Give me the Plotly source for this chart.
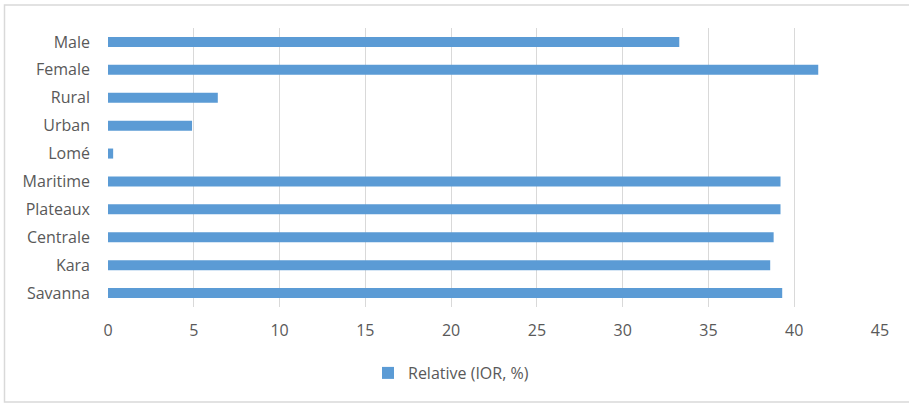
import plotly.graph_objects as go

# Categories listed top to bottom
categories = ["Male", "Female", "Rural", "Urban", "Lomé",
              "Maritime", "Plateaux", "Centrale", "Kara", "Savanna"]
relative_ior = [33.3, 41.4, 6.4, 4.9, 0.3, 39.2, 39.2, 38.8, 38.6, 39.3]
x_ticks = [0, 5, 10, 15, 20, 25, 30, 35, 40, 45]
series_name = "Relative (IOR, %)"

W, H = 909, 403
ML, MR, MT, MB = 108, 29, 28, 96
pw, ph = W - ML - MR, H - MT - MB

font = dict(family="'Open Sans', sans-serif", size=16, color="#595959")

fig = go.Figure(go.Bar(
    x=relative_ior,
    y=categories,
    orientation="h",
    name=series_name,
    marker=dict(color="#5B9BD5", line=dict(width=0)),
    showlegend=True,
))

def px_x(p):
    return (p - ML) / pw

def px_y(p):
    return 1 - (p - MT) / ph

fig.update_layout(
    width=W, height=H,
    margin=dict(l=ML, r=MR, t=MT, b=MB),
    paper_bgcolor="white",
    plot_bgcolor="white",
    font=font,
    bargap=0.64,
    xaxis=dict(
        range=[0, 45],
        tickvals=x_ticks,
        showgrid=True,
        gridcolor="#D9D9D9",
        gridwidth=1,
        zeroline=False,
        showline=False,
        ticks="",
        ticklabelstandoff=12,
        fixedrange=True,
    ),
    yaxis=dict(
        categoryorder="array",
        categoryarray=categories,
        autorange="reversed",
        showgrid=False,
        zeroline=False,
        showline=False,
        ticks="",
        ticklabelstandoff=17,
    ),
    legend=dict(
        orientation="h",
        x=px_x(368), xanchor="left",
        y=px_y(373), yanchor="middle",
        font=font,
        itemwidth=30,
        bgcolor="rgba(0,0,0,0)",
    ),
    shapes=[
        dict(type="rect", xref="paper", yref="paper",
             x0=px_x(4.5), x1=px_x(915), y0=px_y(5), y1=px_y(402),
             line=dict(color="#D9D9D9", width=1.5), fillcolor="rgba(0,0,0,0)",
             layer="below"),
    ],
)

fig.write_html("out.html")
